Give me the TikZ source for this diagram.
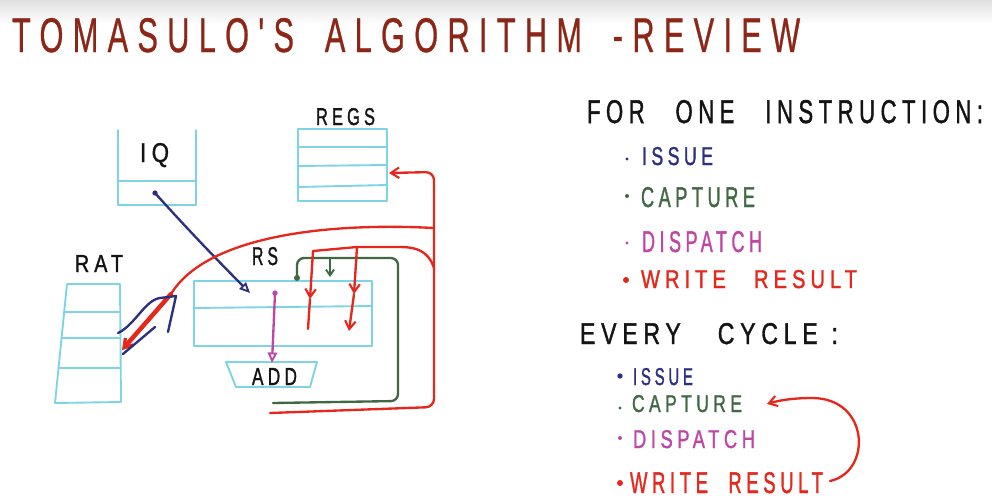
\documentclass[tikz,border=0pt]{standalone}
\usepackage{fontspec}
\usepackage{graphicx}
\setmainfont{Liberation Sans}
\newfontfamily\hand[LetterSpace=25, FakeBold=1.5]{Liberation Sans}
\newfontfamily\handt[LetterSpace=30, FakeBold=0.8]{Liberation Sans}
\usetikzlibrary{arrows.meta}
\newcommand\fitt[3]{\resizebox{\dimexpr0.03cm*#1\relax}{\dimexpr0.03cm*#2\relax}{\hand #3}}
\newcommand\fittt[3]{\resizebox{\dimexpr0.03cm*#1\relax}{\dimexpr0.03cm*#2\relax}{\handt #3}}
\definecolor{boxc}{RGB}{125,212,228}
\definecolor{redc}{RGB}{230,40,28}
\definecolor{navyc}{RGB}{44,48,126}
\definecolor{greenc}{RGB}{64,104,66}
\definecolor{magc}{RGB}{190,70,165}
\definecolor{titlec}{RGB}{140,38,22}
\definecolor{inkc}{RGB}{20,20,20}
\tikzset{
  cbox/.style={draw=boxc, line width=1.6pt, line join=round, line cap=round},
  lbl/.style={anchor=north west, inner sep=0pt, outer sep=0pt},
  wire/.style={line width=2pt, line cap=round, line join=round},
  barb/.style={-{Straight Barb[length=7pt,width=9pt,line width=1.8pt]}},
  openarr/.style={-{Triangle[open,length=9pt,width=8pt,line width=1.6pt]}},
  hole/.style={inner sep=0pt, outer sep=0pt, draw=none}
}
\begin{document}
\begin{tikzpicture}[x=0.03cm, y=-0.03cm]
\useasboundingbox (0,0) rectangle (992,503);
\shade[top color=black!12, bottom color=white] (0,0) rectangle (992,24);

% ---------- title ----------
\node[lbl, text=titlec] (title) at (12,18) {\fittt{788}{34}{TOMASULO'S\hspace{1em}ALGORITHM\hspace{1em}-REVIEW}};

% ---------- boxes ----------
% IQ (open top)
\node[hole, minimum width=2.34cm, minimum height=2.25cm] (iq) at (157,167.5) {};
\draw[cbox] (118,130) -- (118,205) -- (196,205) -- (196,130);
\draw[cbox] (118,181) -- (196,181);
\node[lbl, text=inkc] (iqlbl) at (140,143) {\fitt{29}{19}{IQ}};

% REGS
\node[cbox, hole, draw=boxc, minimum width=2.67cm, minimum height=2.16cm] (regs) at (342.5,165) {};
\draw[cbox] (298,147) -- (387,147);
\draw[cbox] (298,166) -- (387,165);
\draw[cbox] (298,187) -- (387,185);
\node[lbl, text=inkc] (regslbl) at (316,108) {\fitt{59}{17}{REGS}};

% RAT (slanted left side)
\node[hole, minimum width=1.6cm, minimum height=3.57cm] (rat) at (92,343) {};
\draw[cbox] (67,284) -- (120,284) -- (121,402) -- (55,403) -- cycle;
\draw[cbox] (64,312) -- (120,312);
\draw[cbox] (62,338) -- (120,338);
\draw[cbox] (59,368) -- (121,368);
\node[lbl, text=inkc] (ratlbl) at (75,255) {\fitt{48}{17}{RAT}};

% RS
\node[cbox, hole, draw=boxc, minimum width=5.34cm, minimum height=1.95cm] (rs) at (283,313.5) {};
\draw[cbox] (194,308) -- (372,306);
\node[lbl, text=inkc] (rslbl) at (252,247) {\fitt{26}{18}{RS}};

% ADD (trapezoid)
\draw[cbox] (226,362) -- (317,362) -- (310,387) -- (236,387) -- cycle;
\node[lbl, text=inkc] (addlbl) at (252,368) {\fitt{45}{17}{ADD}};

% ---------- connectors ----------
\coordinate (iqdot) at (155,193);
\coordinate (rsin) at (250,293);
\fill[navyc] (iqdot) circle[radius=0.08cm];
\draw[wire, navyc, openarr] (iqdot) .. controls (190,232) and (225,268) .. (rsin);

\coordinate (rsdot) at (275,293);
\coordinate (addin) at (272,363);
\fill[magc] (rsdot) circle[radius=0.08cm];
\draw[wire, magc, openarr] (rsdot) -- (addin);

% green capture loop
\coordinate (g0) at (273,403);
\coordinate (g1) at (398,401);
\coordinate (g2) at (398,258);
\coordinate (g3) at (297,258);
\coordinate (g4) at (297,278);
\coordinate (gb) at (330,258);
\coordinate (gbe) at (330,277);
\draw[wire, greenc, rounded corners=6pt] (g0) -- (g1) -- (g2) -- (g3) -- (g4);
\fill[greenc] (g4) circle[radius=0.09cm];
\draw[wire, greenc, -{Straight Barb[length=5pt,width=7pt,line width=1.6pt]}] (gb) -- (gbe);

% red write-result bus
\coordinate (r0) at (270,413);
\coordinate (r1) at (434,407);
\coordinate (r2) at (434,172);
\coordinate (regsin) at (389,173);
\draw[wire, redc, barb, rounded corners=7pt] (r0) -- (r1) -- (r2) -- (regsin);

% red big curve to RAT
\coordinate (rc0) at (434,228);
\coordinate (rc1) at (171,294);
\coordinate (ratin) at (122,350);
\draw[wire, redc] (rc0) .. controls (320,222) and (205,238) .. (rc1);
\draw[redc, line width=3.8pt, line cap=round, -{Straight Barb[length=7pt,width=9pt,line width=2.8pt]}] (rc1) -- (ratin);

% red branches into RS
\coordinate (b0) at (434,268);
\coordinate (b1) at (357,247);
\coordinate (b2) at (313,251);
\draw[wire, redc] (b0) .. controls (428,250) and (415,247) .. (400,247) -- (b1) -- (b2);
\coordinate (bl1) at (310,299);
\coordinate (bl2) at (308,329);
\draw[wire, redc, barb] (b2) -- (bl1);
\draw[wire, redc] (bl1) -- (bl2);
\coordinate (br1) at (354,294);
\coordinate (br2) at (349,331);
\draw[wire, redc, barb] (b1) -- (br1);
\draw[wire, redc, barb] (br1) -- (br2);

% blue stroke at RAT
\coordinate (u0) at (118,333);
\coordinate (u1) at (160,298);
\coordinate (u2) at (176,296);
\coordinate (u3) at (168,332);
\draw[wire, navyc] (u0) .. controls (135,325) and (145,300) .. (u1) -- (u2) -- (u3);
\coordinate (v0) at (155,327);
\coordinate (v1) at (123,354);
\draw[wire, navyc] (v0) -- (v1);

% ---------- right column ----------
\node[lbl, text=inkc] (forone) at (587,100) {\fitt{396}{23}{FOR\hspace{1.4em}ONE\hspace{1.4em}INSTRUCTION:}};

\fill[navyc] (627,159) circle[radius=0.05cm];
\node[lbl, text=navyc] (i1) at (642,147) {\fitt{71}{18}{ISSUE}};
\fill[greenc] (627,196) circle[radius=0.06cm];
\node[lbl, text=greenc] (c1) at (641,187) {\fitt{114}{20}{CAPTURE}};
\fill[magc] (627,243) circle[radius=0.05cm];
\node[lbl, text=magc] (d1) at (642,231) {\fitt{120}{21}{DISPATCH}};
\fill[redc] (626,280) circle[radius=0.09cm];
\node[lbl, text=redc] (w1) at (641,270) {\fitt{216}{18}{WRITE\hspace{1.4em}RESULT}};

\node[lbl, text=inkc] (every) at (580,323) {\fitt{258}{21}{EVERY\hspace{1.6em}CYCLE\hspace{0.6em}:}};

\fill[navyc] (620,376) circle[radius=0.08cm];
\node[lbl, text=navyc] (i2) at (633,368) {\fitt{60}{17}{ISSUE}};
\fill[greenc] (620,408) circle[radius=0.05cm];
\node[lbl, text=greenc] (c2) at (632,395) {\fitt{110}{17}{CAPTURE}};
\fill[magc] (620,438) circle[radius=0.06cm];
\node[lbl, text=magc] (d2) at (633,430) {\fitt{122}{18}{DISPATCH}};
\fill[redc] (620,483) circle[radius=0.09cm];
\node[lbl, text=redc] (w2) at (630,472) {\fitt{193}{21}{WRITE\hspace{1.1em}RESULT}};

\coordinate (cy0) at (830,481);
\coordinate (cy1) at (767,404);
\draw[wire, redc, barb] (cy0) .. controls (872,472) and (870,398) .. (812,398) .. controls (795,398) and (780,400) .. (cy1);
\end{tikzpicture}
\end{document}
